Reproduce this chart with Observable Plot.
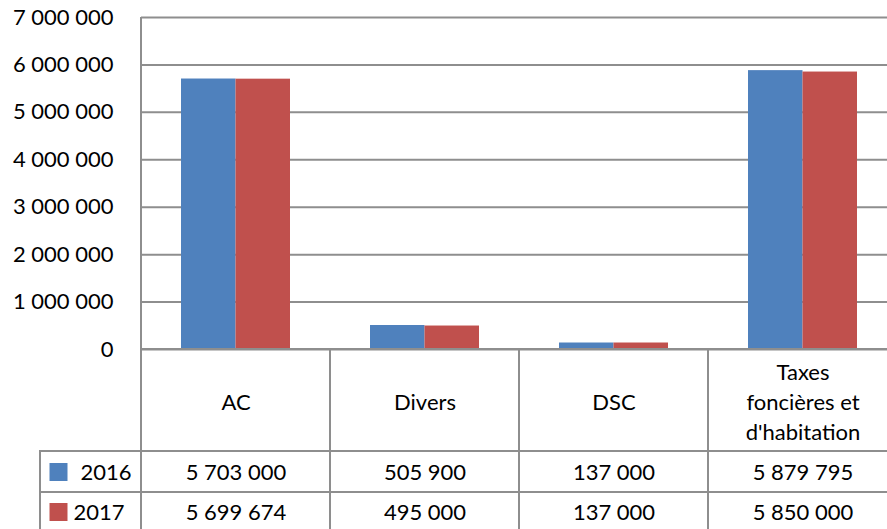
<!DOCTYPE html>
<html>
<head>
<meta charset="utf-8">
<script src="https://cdn.jsdelivr.net/npm/d3@7"></script>
<script src="https://cdn.jsdelivr.net/npm/@observablehq/plot@0.6"></script>
<style>
  html, body { margin: 0; padding: 0; background: #fff; overflow: hidden; width: 887px; height: 529px; }
  #chart { width: 887px; height: 529px; overflow: hidden; }
  #chart svg { max-width: none !important; }
</style>
</head>
<body>
<div id="chart"></div>
<script>
// ---- data ----
const categories = ["AC", "Divers", "DSC", "Taxes\nfoncières et\nd'habitation"];
const years = ["2016", "2017"];
const values2016 = [5703000, 505900, 137000, 5879795];
const values2017 = [5699674, 495000, 137000, 5850000];
const yTicks = [0, 1000000, 2000000, 3000000, 4000000, 5000000, 6000000, 7000000];
const seriesColors = ["#4F81BD", "#C0504D"];

// ---- layout ----
const W = 897, H = 529, ML = 141, MT = 17, MB = 180;
const band = (W - ML) / categories.length;
const grid = "#8e8e8e";
const FONT = 22;
const fmt = v => d3.format(",")(v).replace(/,/g, "\u00a0");

const seriesValues = [values2016, values2017];
const data = years.flatMap((yr, s) => categories.map((c, i) => ({cat: c, year: yr, value: seriesValues[s][i]})));

// table rows (relative offsets below the zero line)
const rows = [[0, 102], [102, 143], [143, 184]];
const rowText = [123, 163];
const legendTextX = [80, 73];
const bandCenter = ML + band / 2;

const marks = [
  Plot.ruleY(yTicks, {y: d => d, stroke: grid, strokeWidth: 2}),
  // bars
  Plot.barY(data.filter(d => d.year === years[0]), {x: "cat", y: "value", fill: "year", insetLeft: 40, insetRight: band / 2}),
  Plot.barY(data.filter(d => d.year === years[1]), {x: "cat", y: "value", fill: "year", insetLeft: band / 2, insetRight: 40}),
  // vertical axis line
  Plot.barY([categories[0]], {x: d => d, y1: () => 0, y2: () => yTicks[yTicks.length - 1], fill: grid, insetLeft: -1, insetRight: band - 1}),
  // category labels
  Plot.text(categories, {x: d => d, text: d => d, frameAnchor: "bottom", dy: 51, lineAnchor: "middle", lineHeight: 1.36, fontSize: FONT, fill: "#000"})
];

// table boxes
rows.forEach(([t, b]) => {
  marks.push(Plot.barY(categories, {x: d => d, y1: () => 0, y2: () => 0, insetTop: t, insetBottom: -b, fill: "none", stroke: grid, strokeWidth: 2}));
});
// legend column boxes
rows.slice(1).forEach(([t, b]) => {
  marks.push(Plot.barY([categories[0]], {x: d => d, y1: () => 0, y2: () => 0, insetTop: t, insetBottom: -b, insetLeft: -(ML - 40), insetRight: band, fill: "none", stroke: grid, strokeWidth: 2}));
});
// values + legend
years.forEach((yr, s) => {
  marks.push(Plot.text(seriesValues[s], {x: (d, i) => categories[i], text: d => fmt(d), frameAnchor: "bottom", dy: rowText[s], lineAnchor: "middle", fontSize: FONT, fill: "#000"}));
  marks.push(Plot.text([yr], {x: () => categories[0], text: d => d, frameAnchor: "bottom", dy: rowText[s], dx: legendTextX[s] - bandCenter, textAnchor: "start", lineAnchor: "middle", fontSize: FONT, fill: "#000"}));
  marks.push(Plot.dot([yr], {x: () => categories[0], frameAnchor: "bottom", dy: rowText[s] - 0.5, dx: 58 - bandCenter, symbol: "square", r: 18 / Math.sqrt(Math.PI), fill: seriesColors[s], stroke: "none"}));
});

const chart = Plot.plot({
  width: W, height: H,
  marginLeft: ML, marginRight: 0, marginTop: MT, marginBottom: MB,
  style: {fontFamily: "Lato, sans-serif", fontSize: FONT + "px", color: "#000", background: "#fff", overflow: "hidden", maxWidth: "none"},
  x: {domain: categories, padding: 0, axis: null},
  y: {domain: [0, yTicks[yTicks.length - 1]], ticks: yTicks, tickSize: 0, tickPadding: 28, tickFormat: fmt, label: null},
  color: {domain: years, range: seriesColors},
  marks
});
document.getElementById("chart").appendChild(chart);
</script>
</body>
</html>
